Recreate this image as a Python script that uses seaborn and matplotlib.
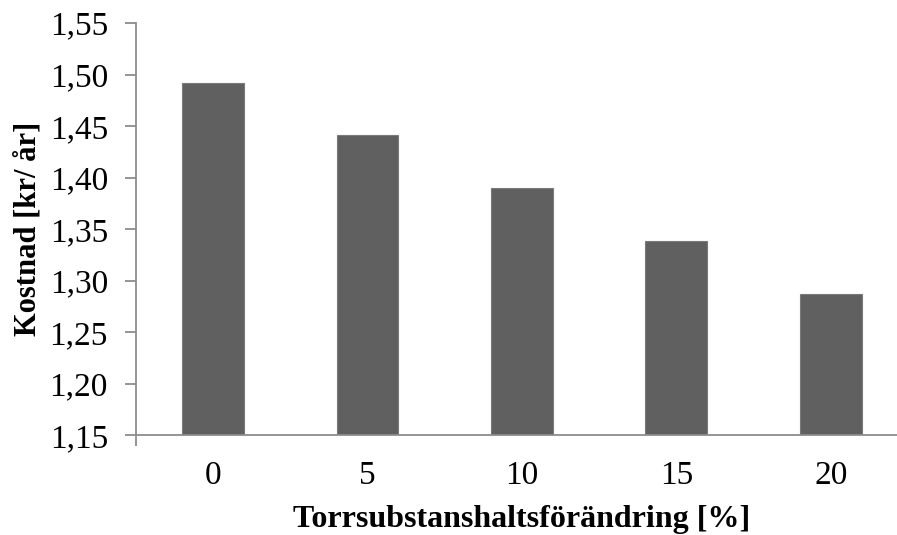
import matplotlib
matplotlib.use("Agg")
import matplotlib.pyplot as plt
import seaborn as sns
import pandas as pd
from matplotlib.ticker import FixedLocator, FuncFormatter

# Cost per year for each change in dry-matter content
categories = ["0", "5", "10", "15", "20"]
kostnad = [1.4915, 1.4410, 1.3896, 1.3388, 1.2874]
y_ticks = [1.15, 1.20, 1.25, 1.30, 1.35, 1.40, 1.45, 1.50, 1.55]

df = pd.DataFrame({"andring": categories, "kostnad": kostnad})

sns.set_theme(style="white")
plt.rcParams["font.family"] = ["Liberation Serif", "DejaVu Serif"]
plt.rcParams["text.color"] = "black"
plt.rcParams["axes.labelcolor"] = "black"
plt.rcParams["xtick.color"] = "black"
plt.rcParams["ytick.color"] = "black"

fig = plt.figure(figsize=(8.97, 5.35), dpi=100)
ax = fig.add_axes([0.1513, 0.1864, 0.861, 0.7706])

sns.barplot(data=df, x="andring", y="kostnad", color="#606060",
            width=0.4, saturation=1, ax=ax, edgecolor="#7a7a7a", linewidth=0.8)

ax.set_ylim(1.15, 1.55)
ax.set_xlim(-0.5, 4.5)
ax.yaxis.set_major_locator(FixedLocator(y_ticks))
ax.yaxis.set_major_formatter(FuncFormatter(lambda v, p: f"{v:.2f}".replace(".", ",")))

for side in ["top", "right"]:
    ax.spines[side].set_visible(False)
for side in ["left", "bottom"]:
    ax.spines[side].set_color("#8c8c8c")
    ax.spines[side].set_linewidth(1.3)

ax.tick_params(axis="y", which="major", direction="out", length=8, width=1.3,
               color="#8c8c8c", labelcolor="black", labelsize=24, pad=12, left=True)
ax.tick_params(axis="x", which="major", length=0, labelcolor="black", labelsize=24, pad=18)
ax.set_xticks([-0.5], minor=True)
ax.tick_params(axis="x", which="minor", direction="out", length=8, width=1.3,
               color="#8c8c8c", bottom=True)

ax.set_xlabel("Torrsubstanshaltsförändring [%]", fontsize=23, fontweight="bold",
              labelpad=10, color="black")
ax.set_ylabel("Kostnad [kr/ år]", fontsize=22, fontweight="bold",
              labelpad=5, color="black")

fig.savefig("out.png", dpi=100, facecolor="white")
